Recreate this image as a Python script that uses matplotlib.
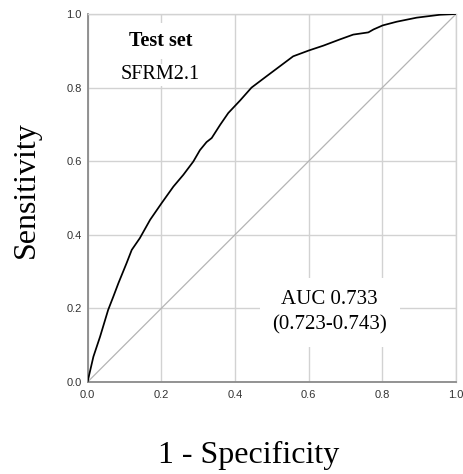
import matplotlib
matplotlib.use("Agg")
import matplotlib.pyplot as plt
import numpy as np

# ROC curve (1 - specificity, sensitivity)
fpr = [0.0, 0.016, 0.034, 0.056, 0.070, 0.084, 0.106, 0.120, 0.142, 0.170,
       0.201, 0.233, 0.260, 0.287, 0.305, 0.323, 0.337, 0.360, 0.382, 0.414,
       0.445, 0.486, 0.522, 0.558, 0.601, 0.640, 0.685, 0.721, 0.762,
       0.776, 0.801, 0.839, 0.893, 0.957, 1.0]
tpr = [0.0, 0.069, 0.123, 0.196, 0.232, 0.269, 0.323, 0.359, 0.391, 0.441,
       0.486, 0.531, 0.563, 0.599, 0.630, 0.652, 0.663, 0.699, 0.731, 0.765,
       0.800, 0.831, 0.858, 0.885, 0.901, 0.914, 0.931, 0.944, 0.950,
       0.958, 0.969, 0.979, 0.990, 0.998, 1.0]
ref_line = [0.0, 1.0]
ticks = [0.0, 0.2, 0.4, 0.6, 0.8, 1.0]
tick_labels = ["0.0", "0.2", "0.4", "0.6", "0.8", "1.0"]

title_bold = "Test set"
title_model = "SFRM2.1"
auc_text = "AUC 0.733\n(0.723-0.743)"

serif = "Liberation Serif"
sans = "Liberation Sans"

fig = plt.figure(figsize=(4.63, 4.74), dpi=100)
ax = fig.add_axes([0.189, 0.194, 0.796, 0.7765])

ax.plot(ref_line, ref_line, color="#b4b4b4", lw=0.9, zorder=2)
ax.plot(fpr, tpr, color="black", lw=1.25, zorder=3)

ax.set_xlim(0, 1)
ax.set_ylim(0, 1)
ax.set_xticks(ticks)
ax.set_yticks(ticks)
ax.set_xticklabels(tick_labels, fontfamily=sans, fontsize=8, color="#333333")
ax.set_yticklabels(tick_labels, fontfamily=sans, fontsize=8, color="#333333")
ax.tick_params(axis="both", length=0)
ax.tick_params(axis="x", pad=6)
ax.tick_params(axis="y", pad=4)
ax.grid(True, color="#d2d2d2", lw=1.0, zorder=1)

for side in ["top", "right"]:
    ax.spines[side].set_color("#d2d2d2")
    ax.spines[side].set_linewidth(1.0)
for side in ["left", "bottom"]:
    ax.spines[side].set_color("#8a8a8a")
    ax.spines[side].set_linewidth(1.3)

ax.text(0.198, 0.912, title_bold, ha="center", va="baseline", fontfamily=serif,
        fontsize=14.5, fontweight="bold", zorder=4,
        bbox=dict(facecolor="white", edgecolor="none", boxstyle="square,pad=0.4"))
ax.text(0.198, 0.822, title_model, ha="center", va="baseline", fontfamily=serif,
        fontsize=14.5, zorder=4,
        bbox=dict(facecolor="white", edgecolor="none", boxstyle="square,pad=0.05"))
ax.text(0.657, 0.19, auc_text, ha="center", va="center", fontfamily=serif,
        fontsize=15, linespacing=1.4, zorder=4,
        bbox=dict(facecolor="white", edgecolor="none", boxstyle="square,pad=0.6"))

fig.text(0.058, 0.60, "Sensitivity", rotation=90, ha="center", va="center",
         fontfamily=serif, fontsize=23)
fig.text(0.538, 0.04, "1 - Specificity", ha="center", va="center",
         fontfamily=serif, fontsize=23)

fig.savefig("out.png", dpi=100)
